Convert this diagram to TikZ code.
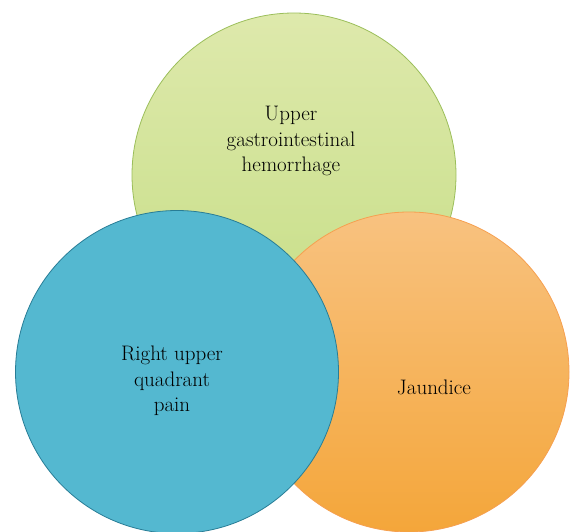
\documentclass[tikz,border=0pt]{standalone}
\usepackage{xcolor}
\usepackage{tikz}
\usetikzlibrary{positioning,calc}
\definecolor{gitop}{RGB}{222,233,172}
\definecolor{gibot}{RGB}{198,222,134}
\definecolor{giedge}{RGB}{155,190,90}
\definecolor{ruqfill}{RGB}{84,184,208}
\definecolor{ruqedge}{RGB}{40,125,150}
\definecolor{jtop}{RGB}{248,194,128}
\definecolor{jbot}{RGB}{244,166,58}
\definecolor{jedge}{RGB}{246,160,80}

\begin{document}
\begin{tikzpicture}[
  x=1pt, y=-1pt,
  symptom/.style={circle, minimum size=324pt, inner sep=0pt, line width=0.8pt},
  caption/.style={align=center, font=\fontsize{21}{25.5}\selectfont, text=black}
]
\useasboundingbox (0,0) rectangle (570,532);
\begin{scope}
\clip (0,0) rectangle (570,532);
\node[symptom, top color=gitop, bottom color=gibot, draw=giedge] (gi) at (294,175) {};
\node[symptom, minimum size=320pt, top color=jtop, bottom color=jbot, draw=jedge] (jaund) at (409,372) {};
\node[symptom, minimum size=323pt, fill=ruqfill, draw=ruqedge] (ruq) at (177,372) {};
\end{scope}
\node[caption] (gitext) at (291,141) {Upper\\gastrointestinal\\hemorrhage};
\node[caption] (ruqtext) at (172,381) {Right upper\\quadrant\\pain};
\node[caption] (jtext) at (434,387) {Jaundice};
\end{tikzpicture}
\end{document}
